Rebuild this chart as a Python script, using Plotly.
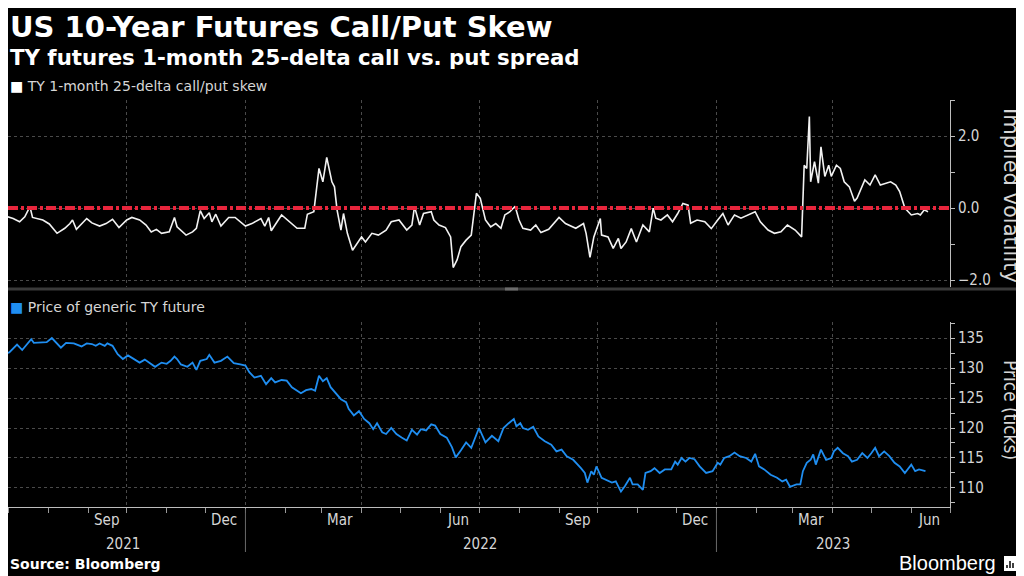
import plotly.graph_objects as go
from plotly.subplots import make_subplots

# TY 1-month 25-delta call/put skew (implied vol points)
skew_dates = [
    "2021-06-25", "2021-07-01", "2021-07-05", "2021-07-10", "2021-07-14", "2021-07-18", "2021-07-20",
    "2021-07-28", "2021-08-02", "2021-08-08", "2021-08-14", "2021-08-18", "2021-08-20", "2021-08-23",
    "2021-08-31", "2021-09-04", "2021-09-10", "2021-09-15", "2021-09-20", "2021-09-25", "2021-10-01",
    "2021-10-05", "2021-10-11", "2021-10-16", "2021-10-20", "2021-10-24", "2021-10-28", "2021-11-03",
    "2021-11-07", "2021-11-09", "2021-11-16", "2021-11-21", "2021-11-24", "2021-11-27", "2021-11-30",
    "2021-12-04", "2021-12-06", "2021-12-09", "2021-12-13", "2021-12-19", "2021-12-24", "2022-01-01",
    "2022-01-06", "2022-01-13", "2022-01-16", "2022-01-19", "2022-01-21", "2022-01-29", "2022-02-04",
    "2022-02-10", "2022-02-16", "2022-02-18", "2022-02-23", "2022-02-27", "2022-03-02", "2022-03-05",
    "2022-03-09", "2022-03-11", "2022-03-13", "2022-03-16", "2022-03-18", "2022-03-21", "2022-03-25",
    "2022-04-01", "2022-04-04", "2022-04-09", "2022-04-14", "2022-04-20", "2022-04-24", "2022-04-30",
    "2022-05-06", "2022-05-10", "2022-05-12", "2022-05-16", "2022-05-19", "2022-05-25", "2022-05-27",
    "2022-05-31", "2022-06-05", "2022-06-09", "2022-06-11", "2022-06-14", "2022-06-17", "2022-06-21",
    "2022-06-25", "2022-06-29", "2022-07-02", "2022-07-06", "2022-07-10", "2022-07-14", "2022-07-18",
    "2022-07-21", "2022-07-25", "2022-07-29", "2022-08-01", "2022-08-04", "2022-08-10", "2022-08-14",
    "2022-08-18", "2022-08-24", "2022-09-01", "2022-09-06", "2022-09-14", "2022-09-20", "2022-09-22",
    "2022-09-25", "2022-09-28", "2022-10-03", "2022-10-04", "2022-10-09", "2022-10-13", "2022-10-17",
    "2022-10-19", "2022-10-23", "2022-10-27", "2022-10-31", "2022-11-05", "2022-11-10", "2022-11-13",
    "2022-11-15", "2022-11-19", "2022-11-24", "2022-11-28", "2022-12-02", "2022-12-06", "2022-12-10",
    "2022-12-12", "2022-12-17", "2022-12-23", "2022-12-28", "2023-01-02", "2023-01-06", "2023-01-10",
    "2023-01-15", "2023-01-20", "2023-01-25", "2023-01-31", "2023-02-04", "2023-02-10", "2023-02-15",
    "2023-02-20", "2023-02-25", "2023-03-03", "2023-03-08", "2023-03-10", "2023-03-12", "2023-03-14",
    "2023-03-15", "2023-03-18", "2023-03-21", "2023-03-23", "2023-03-26", "2023-03-29", "2023-03-31",
    "2023-04-04", "2023-04-07", "2023-04-10", "2023-04-14", "2023-04-18", "2023-04-20", "2023-04-26",
    "2023-04-30", "2023-05-04", "2023-05-08", "2023-05-12", "2023-05-16", "2023-05-20", "2023-05-23",
    "2023-05-27", "2023-06-01", "2023-06-06", "2023-06-08", "2023-06-11", "2023-06-14",
]
skew_values = [
    -0.17, -0.23, -0.29, -0.38, -0.24, 0.04, -0.26,
    -0.33, -0.44, -0.70, -0.56, -0.43, -0.33, -0.59,
    -0.29, -0.41, -0.50, -0.43, -0.31, -0.54, -0.33,
    -0.26, -0.33, -0.47, -0.66, -0.59, -0.70, -0.66,
    -0.26, -0.52, -0.75, -0.66, -0.56, -0.07, -0.29,
    -0.13, -0.38, -0.17, -0.50, -0.26, -0.26, -0.50,
    -0.43, -0.29, -0.50, -0.26, -0.63, -0.19, -0.38,
    -0.56, -0.56, -0.17, -0.10, 1.10, 0.73, 1.41,
    0.73, 0.59, -0.05, -0.61, -0.15, -0.70, -1.17,
    -0.80, -0.94, -0.70, -0.75, -0.61, -0.38, -0.33,
    -0.61, -0.47, 0.04, -0.47, -0.15, -0.10, -0.33,
    -0.47, -0.54, -0.80, -1.65, -1.44, -1.07, -0.89,
    -0.75, 0.41, 0.27, -0.33, -0.52, -0.43, -0.56,
    -0.19, -0.10, 0.05, -0.33, -0.56, -0.61, -0.47,
    -0.68, -0.59, -0.26, -0.43, -0.56, -0.43, -0.70,
    -1.37, -0.80, -0.29, -0.75, -0.80, -1.12, -0.84,
    -1.12, -0.94, -0.57, -0.94, -0.47, -0.66, 0.00,
    -0.28, -0.33, -0.19, -0.38, -0.15, 0.13, 0.08,
    -0.42, -0.33, -0.38, -0.57, -0.33, -0.15, -0.47,
    -0.19, -0.28, -0.19, -0.10, -0.38, -0.61, -0.70,
    -0.66, -0.47, -0.61, -0.80, 1.19, 1.10, 2.54,
    0.73, 1.29, 0.69, 1.70, 0.88, 1.19, 0.88,
    1.19, 1.10, 0.73, 0.59, 0.19, 0.28, 0.78,
    0.64, 0.92, 0.64, 0.69, 0.73, 0.64, 0.46,
    0.00, -0.19, -0.15, -0.19, -0.05, -0.10,
]

# Price of generic TY future
price_dates = [
    "2021-06-25", "2021-06-29", "2021-07-02", "2021-07-08", "2021-07-12", "2021-07-15", "2021-07-19",
    "2021-07-21", "2021-07-27", "2021-07-31", "2021-08-04", "2021-08-08", "2021-08-11", "2021-08-15",
    "2021-08-21", "2021-08-27", "2021-08-31", "2021-09-04", "2021-09-07", "2021-09-10", "2021-09-14",
    "2021-09-16", "2021-09-20", "2021-09-24", "2021-09-28", "2021-10-02", "2021-10-07", "2021-10-11",
    "2021-10-15", "2021-10-19", "2021-10-23", "2021-10-28", "2021-11-01", "2021-11-04", "2021-11-07",
    "2021-11-09", "2021-11-12", "2021-11-17", "2021-11-21", "2021-11-24", "2021-11-27", "2021-12-02",
    "2021-12-04", "2021-12-08", "2021-12-13", "2021-12-18", "2021-12-23", "2021-12-28", "2022-01-01",
    "2022-01-04", "2022-01-08", "2022-01-13", "2022-01-17", "2022-01-21", "2022-01-24", "2022-01-29",
    "2022-02-02", "2022-02-06", "2022-02-10", "2022-02-13", "2022-02-17", "2022-02-21", "2022-02-24",
    "2022-02-27", "2022-03-02", "2022-03-05", "2022-03-08", "2022-03-12", "2022-03-16", "2022-03-20",
    "2022-03-22", "2022-03-26", "2022-03-30", "2022-04-03", "2022-04-07", "2022-04-10", "2022-04-13",
    "2022-04-17", "2022-04-20", "2022-04-24", "2022-04-28", "2022-05-02", "2022-05-06", "2022-05-10",
    "2022-05-14", "2022-05-17", "2022-05-21", "2022-05-25", "2022-05-28", "2022-06-01", "2022-06-06",
    "2022-06-10", "2022-06-13", "2022-06-17", "2022-06-21", "2022-06-25", "2022-07-01", "2022-07-06",
    "2022-07-11", "2022-07-16", "2022-07-20", "2022-07-24", "2022-07-28", "2022-07-30", "2022-08-02",
    "2022-08-04", "2022-08-08", "2022-08-12", "2022-08-16", "2022-08-21", "2022-08-26", "2022-08-30",
    "2022-09-03", "2022-09-07", "2022-09-12", "2022-09-18", "2022-09-21", "2022-09-23", "2022-09-26",
    "2022-09-28", "2022-09-30", "2022-10-04", "2022-10-08", "2022-10-12", "2022-10-15", "2022-10-19",
    "2022-10-22", "2022-10-26", "2022-10-28", "2022-11-01", "2022-11-05", "2022-11-07", "2022-11-11",
    "2022-11-14", "2022-11-18", "2022-11-22", "2022-11-27", "2022-11-30", "2022-12-02", "2022-12-05",
    "2022-12-08", "2022-12-11", "2022-12-15", "2022-12-19", "2022-12-24", "2022-12-29", "2023-01-02",
    "2023-01-04", "2023-01-07", "2023-01-11", "2023-01-15", "2023-01-19", "2023-01-24", "2023-01-28",
    "2023-01-31", "2023-02-03", "2023-02-07", "2023-02-12", "2023-02-17", "2023-02-21", "2023-02-24",
    "2023-02-27", "2023-03-04", "2023-03-07", "2023-03-09", "2023-03-12", "2023-03-15", "2023-03-17",
    "2023-03-19", "2023-03-23", "2023-03-27", "2023-03-31", "2023-04-02", "2023-04-05", "2023-04-09",
    "2023-04-13", "2023-04-16", "2023-04-20", "2023-04-24", "2023-04-28", "2023-05-01", "2023-05-04",
    "2023-05-07", "2023-05-11", "2023-05-15", "2023-05-19", "2023-05-23", "2023-05-27", "2023-06-01",
    "2023-06-04", "2023-06-07", "2023-06-12",
]
price_values = [
    131.9, 132.4, 132.6, 133.9, 133.0, 133.7, 134.8,
    134.2, 134.3, 134.3, 135.0, 134.1, 133.4, 134.2,
    134.1, 133.6, 134.1, 134.0, 133.7, 134.1, 133.7,
    134.1, 133.7, 132.3, 131.5, 132.1, 131.5, 130.9,
    131.4, 130.8, 130.2, 130.9, 130.7, 131.2, 131.9,
    131.5, 130.6, 130.2, 130.9, 129.7, 131.2, 131.5,
    132.2, 130.9, 131.2, 131.9, 130.8, 130.6, 130.4,
    129.3, 128.4, 128.7, 127.3, 128.3, 127.6, 128.0,
    127.9, 126.8, 126.3, 125.8, 126.3, 126.5, 126.2,
    128.7, 127.8, 128.3, 126.8, 125.7, 124.8, 124.3,
    123.2, 122.1, 122.8, 121.5, 120.8, 119.8, 120.8,
    119.3, 119.0, 120.0, 119.0, 118.4, 117.9, 119.7,
    118.9, 119.8, 119.6, 120.6, 120.4, 119.0, 118.4,
    116.8, 115.1, 116.3, 117.6, 116.7, 120.0, 117.6,
    118.7, 117.8, 120.0, 120.8, 121.5, 120.3, 120.8,
    120.0, 119.7, 120.2, 118.6, 117.8, 117.2, 116.1,
    116.4, 115.3, 114.7, 113.3, 112.5, 110.9, 112.8,
    112.2, 113.6, 111.7, 111.3, 110.9, 111.1, 109.4,
    110.3, 111.7, 110.6, 110.6, 109.7, 112.5, 112.8,
    113.3, 112.5, 113.1, 113.1, 114.4, 113.9, 115.0,
    114.4, 115.0, 114.8, 113.6, 112.5, 112.8, 114.2,
    113.9, 115.0, 115.3, 115.9, 115.3, 115.0, 114.4,
    115.7, 113.6, 113.1, 112.2, 111.7, 111.1, 111.4,
    110.2, 110.6, 110.6, 112.8, 114.2, 114.7, 115.6,
    113.9, 116.4, 114.7, 115.0, 116.1, 116.7, 115.8,
    115.3, 114.4, 114.7, 115.8, 115.0, 115.8, 116.7,
    115.3, 116.1, 115.3, 114.2, 113.6, 112.5, 113.9,
    112.8, 113.1, 112.8,
]

# x axis labels
month_label_dates = ["2021-09-15", "2021-12-15", "2022-03-15", "2022-06-15",
                     "2022-09-15", "2022-12-15", "2023-03-15", "2023-06-15"]
month_labels = ["Sep", "Dec", "Mar", "Jun", "Sep", "Dec", "Mar", "Jun"]
year_label_dates = ["2021-09-28", "2022-07-02", "2023-04-01"]
year_labels = ["2021", "2022", "2023"]
year_breaks = ["2022-01-01", "2023-01-01"]
quarter_starts = ["2021-07-01", "2021-10-01", "2022-01-01", "2022-04-01", "2022-07-01",
                  "2022-10-01", "2023-01-01", "2023-04-01", "2023-07-01"]

BG = "#000000"
GRID = "#4a4a4a"
AXIS_TXT = "#d6d6d6"
WHITE_LINE = "#f2f2f2"
BLUE = "#1f8ef1"
RED = "#e8253c"
FONT = "DejaVu Sans, Verdana, sans-serif"
COND = "DejaVu Sans Condensed, Liberation Sans Narrow, Roboto, sans-serif"

# the page has an 8px body margin, so work in window pixels and shift by it
OFF = 8
W, H = 1024 - OFF, 576 - OFF
L, R, T, B = 8, 950, 100, 507   # plot area in window pixels


def pyf(p):
    return (B - p) / (B - T)


def pxf(p):
    return (p - L) / (R - L)


fig = make_subplots(rows=2, cols=1, shared_xaxes=True)

fig.add_trace(go.Scatter(x=skew_dates, y=skew_values, mode="lines",
                         line=dict(color=WHITE_LINE, width=1.6),
                         name="TY 1-month 25-delta call/put skew", showlegend=False),
              row=1, col=1)
fig.add_trace(go.Scatter(x=price_dates, y=price_values, mode="lines",
                         line=dict(color=BLUE, width=1.8),
                         name="Price of generic TY future", showlegend=False),
              row=2, col=1)

# zero line of the skew panel
fig.add_shape(type="line", xref="x domain", yref="y", x0=0, x1=1, y0=0, y1=0,
              line=dict(color=RED, width=4, dash="10px,3px,3px,3px"), layer="above")

xcommon = dict(type="date", range=["2021-07-01", "2023-07-01"],
               tickmode="array", tickvals=quarter_starts,
               showgrid=True, gridcolor=GRID, griddash="dot", gridwidth=1,
               zeroline=False)
fig.update_xaxes(**xcommon)
fig.update_xaxes(showticklabels=False, ticks="", showline=False, row=1, col=1)
fig.update_xaxes(showticklabels=False, ticks="outside", ticklen=5, tickcolor="#9a9a9a",
                 showline=True, linecolor="#bdbdbd", linewidth=1,
                 minor=dict(ticks="outside", dtick="M1", tick0="2021-07-01",
                            ticklen=5, tickcolor="#9a9a9a", showgrid=False),
                 row=2, col=1)

fig.update_yaxes(side="right", range=[-2.19, 3.0], tickvals=[-2, 0, 2], tickformat=".1f",
                 showgrid=True, gridcolor=GRID, griddash="dot", zeroline=False,
                 showline=True, linecolor="#bdbdbd", linewidth=1,
                 ticks="outside", ticklen=4, tickcolor="#bdbdbd",
                 minor=dict(ticks="outside", dtick=1, ticklen=4, tickcolor="#bdbdbd", showgrid=False),
                 tickfont=dict(size=15, color=AXIS_TXT, family=COND),
                 row=1, col=1)
fig.update_yaxes(side="right", range=[106.83, 137.67], tickvals=[110, 115, 120, 125, 130, 135],
                 showgrid=True, gridcolor=GRID, griddash="dot", zeroline=False,
                 showline=True, linecolor="#bdbdbd", linewidth=1,
                 ticks="outside", ticklen=4, tickcolor="#bdbdbd",
                 minor=dict(ticks="outside", dtick=2.5, ticklen=4, tickcolor="#bdbdbd", showgrid=False),
                 tickfont=dict(size=15, color=AXIS_TXT, family=COND),
                 row=2, col=1)

fig.update_layout(
    width=W, height=H,
    paper_bgcolor=BG, plot_bgcolor=BG,
    margin=dict(l=L - OFF, r=1024 - R, t=T - OFF, b=576 - B),
    showlegend=False,
    font=dict(family=FONT, color=AXIS_TXT),
    xaxis=dict(domain=[0, 1]),
    xaxis2=dict(domain=[0, 1]),
    yaxis=dict(domain=[pyf(287), 1.0]),
    yaxis2=dict(domain=[0.0, pyf(322)]),
)

ann = []
# title and subtitle share one text block so their lines sit close together
ann.append(dict(text="<span style='font-size:29px'><b>US 10-Year Futures Call/Put Skew</b></span>"
                     "<br><b>TY futures 1-month 25-delta call vs. put spread</b>",
                x=pxf(8), y=pyf(8), yanchor="top", align="left",
                font=dict(size=21.3, color="#ffffff", family=FONT)))
ann.append(dict(text="<span style='color:#ffffff'>■</span> TY 1-month 25-delta call/put skew",
                x=pxf(8), y=pyf(86), font=dict(size=14, color=AXIS_TXT, family=FONT)))
ann.append(dict(text="<span style='color:%s'>■</span> Price of generic TY future" % BLUE,
                x=pxf(8), y=pyf(307), font=dict(size=14, color=AXIS_TXT, family=FONT)))
ann.append(dict(text="<b>Source: Bloomberg</b>", x=pxf(8), y=pyf(564),
                font=dict(size=14, color="#ffffff", family=FONT)))
for a in ann:
    a.setdefault("yanchor", "middle")
    a.update(xref="paper", yref="paper", xanchor="left", showarrow=False)

# month and year labels on the shared time axis
for d, t in zip(month_label_dates, month_labels):
    ann.append(dict(text=t, x=d, xref="x2", y=pyf(520), yref="paper", showarrow=False,
                    xanchor="center", yanchor="middle",
                    font=dict(size=15, color=AXIS_TXT, family=COND)))
for d, t in zip(year_label_dates, year_labels):
    ann.append(dict(text=t, x=d, xref="x2", y=pyf(544), yref="paper", showarrow=False,
                    xanchor="center", yanchor="middle",
                    font=dict(size=15, color=AXIS_TXT, family=COND)))

# axis titles
ann.append(dict(text="Implied volatility", x=pxf(1011), y=pyf(195), xref="paper", yref="paper",
                textangle=90, showarrow=False, xanchor="center", yanchor="middle",
                font=dict(size=21, color=AXIS_TXT, family=FONT)))
ann.append(dict(text="Price (ticks)", x=pxf(1011), y=pyf(410), xref="paper", yref="paper",
                textangle=90, showarrow=False, xanchor="center", yanchor="middle",
                font=dict(size=19, color=AXIS_TXT, family=COND)))

# Bloomberg logo
ann.append(dict(text="Bloomberg", x=pxf(998), y=pyf(563), xref="paper", yref="paper",
                showarrow=False, xanchor="right", yanchor="middle",
                font=dict(size=20, color="#ffffff", family="Liberation Sans, Arial, sans-serif")))
fig.update_layout(annotations=ann)

for d in year_breaks:
    fig.add_shape(type="line", xref="x2", yref="paper", x0=d, x1=d, y0=pyf(509), y1=pyf(552),
                  line=dict(color="#6a6a6a", width=1))

# panel separator
fig.add_shape(type="line", xref="paper", yref="paper", x0=pxf(0), x1=pxf(1024), y0=pyf(289), y1=pyf(289),
              line=dict(color="#3a3a3a", width=3))
fig.add_shape(type="rect", xref="paper", yref="paper", x0=pxf(505), x1=pxf(518), y0=pyf(287.5), y1=pyf(290.5),
              line=dict(width=0), fillcolor="#6a6a6a")
# logo glyph
fig.add_shape(type="rect", xref="paper", yref="paper", x0=pxf(1004), x1=pxf(1016), y0=pyf(556), y1=pyf(571),
              line=dict(width=0), fillcolor="#ffffff")
for bx, top in [(1007, 565), (1010, 561), (1013, 563)]:
    fig.add_shape(type="line", xref="paper", yref="paper", x0=pxf(bx), x1=pxf(bx), y0=pyf(568), y1=pyf(top),
                  line=dict(color="#000000", width=1.5))

fig.write_html("out.html")
